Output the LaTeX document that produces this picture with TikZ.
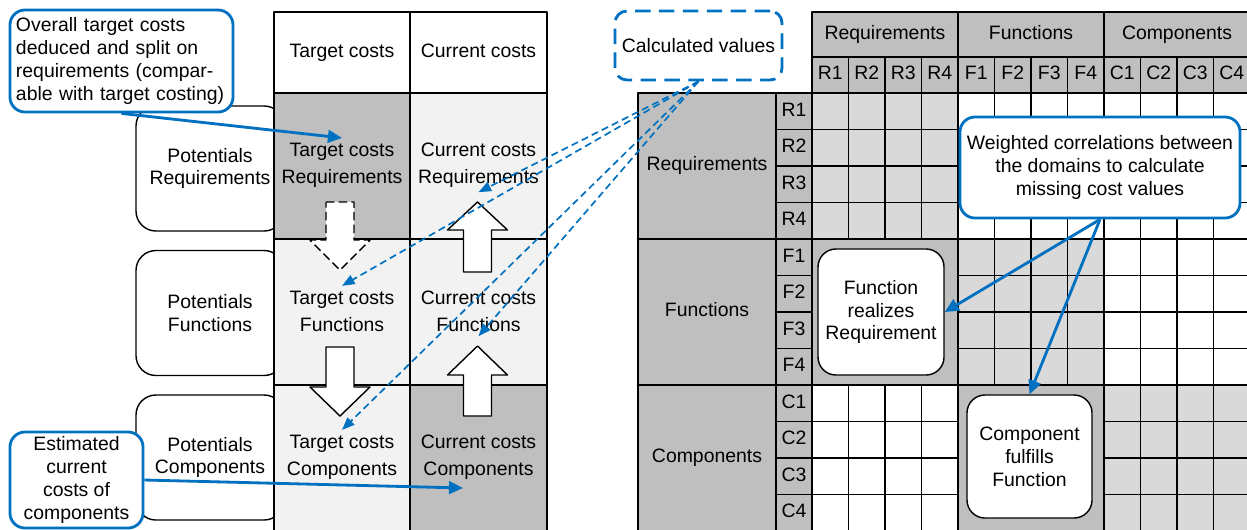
\documentclass[tikz,border=0pt]{standalone}
\usepackage{fontspec}
\setmainfont{Liberation Sans}
\usetikzlibrary{arrows.meta}
\definecolor{calloutblue}{RGB}{0,112,192}
\definecolor{darkcell}{RGB}{191,191,191}
\definecolor{midcell}{RGB}{217,217,217}
\definecolor{lightcell}{RGB}{242,242,242}
\tikzset{
  cell/.style={draw,line width=1.2pt},
  headtext/.style={text height=10pt,text depth=3pt},
  celltext/.style={align=center,font=\fontsize{13.8}{19.1}\selectfont},
  callout/.style={draw=calloutblue,line width=2pt,rounded corners=0.375cm,fill=white,align=center},
  potbox/.style={draw,line width=1pt,rounded corners=0.5cm,fill=white,minimum width=3.7cm,minimum height=3.125cm,align=center},
  notebox/.style={draw,line width=1pt,rounded corners=0.45cm,fill=white,align=center},
  bluearrow/.style={draw=calloutblue,line width=2pt,-{Triangle[length=10pt,width=9pt]}},
  calcarrow/.style={draw=calloutblue,line width=1.2pt,dash pattern=on 5pt off 3pt,-{Triangle[length=9pt,width=7pt]}},
  blockarrow/.style={draw,fill=white,line width=1pt},
  dashblock/.style={dash pattern=on 6pt off 3pt}
}
\begin{document}
\begin{tikzpicture}[x=0.025cm,y=-0.025cm,line join=round,font=\fontsize{13.8}{16.3}\selectfont]
  \def\w{36.5} % cell size (px)
  \useasboundingbox (0,0) rectangle (1247,529);
  % potentials behind the cost table
  \foreach \d [count=\i from 0] in {Requirements,Functions,Components}
    \node[potbox] (pot\i) at (210,168.5+\i*144.5) {Potentials\\\d};
  % cost table
  \node[cell,headtext,fill=white,minimum width=3.4cm,minimum height=2.025cm] (tch) at (342,52.5) {Target costs};
  \node[cell,headtext,fill=white,minimum width=3.425cm,minimum height=2.025cm] (cch) at (478.5,52.5) {Current costs};
  \foreach \d/\fa/\fb [count=\i from 0] in {Requirements/darkcell/lightcell,Functions/lightcell/lightcell,Components/lightcell/darkcell} {
    \draw[cell,fill=\fa] (274,93+\i*146) rectangle ++(136,146);
    \draw[cell,fill=\fb] (410,93+\i*146) rectangle ++(137,146);
    \node[celltext] (tc\i) at (342,165+\i*146) {Target costs\\\d};
    \node[celltext] (cc\i) at (478.5,165+\i*146) {Current costs\\\d};
  }
  % block arrows
  \foreach \s/\xa/\ya/\yb/\yt in {dashblock/340/202/240/270,solid/340/347/387/416,solid/477.5/416/375/346,solid/477.5/272/230/202}
    \draw[blockarrow,\s] (\xa-14,\ya) -- (\xa+14,\ya) -- (\xa+14,\yb) -- (\xa+30,\yb) -- (\xa,\yt) -- (\xa-30,\yb) -- (\xa-14,\yb) -- cycle;
  % matrix headers
  \foreach \d [count=\i from 0] in {Requirements,Functions,Components} {
    \node[cell,headtext,fill=darkcell,minimum width=3.65cm,minimum height=1.125cm] (dh\i) at (885+\i*146,34.5) {\d};
    \node[cell,headtext,fill=darkcell,minimum width=3.45cm,minimum height=3.65cm] (dl\i) at (707,166+\i*146) {\d};
  }
  \foreach \l [count=\i from 0] in {R1,R2,R3,R4,F1,F2,F3,F4,C1,C2,C3,C4} {
    \node[cell,headtext,fill=darkcell,minimum width=0.9125cm,minimum height=0.9cm] (col\l) at (830.25+\i*\w,75) {\l};
    \node[cell,headtext,fill=darkcell,minimum width=0.9cm,minimum height=0.9125cm] (row\l) at (794,111.25+\i*\w) {\l};
  }
  % matrix cells
  \foreach \bi/\bj/\col in {0/0/midcell,1/1/midcell,2/2/midcell,0/1/white,0/2/white,1/2/white,2/0/white}
    \foreach \k in {0,...,3}
      \foreach \m in {0,...,3}
        \draw[cell,fill=\col] (812+\bj*146+\m*\w,93+\bi*146+\k*\w) rectangle ++(\w,\w);
  \draw[cell,fill=darkcell] (812,239) rectangle ++(146,146);
  \draw[cell,fill=darkcell] (958,385) rectangle ++(146,146);
  \node[notebox,minimum width=3.15cm,minimum height=3.15cm] (fr) at (881,312) {Function\\realizes\\Requirement};
  \node[notebox,minimum width=3.125cm,minimum height=3.075cm] (cf) at (1029.5,456.5) {Component\\fulfills\\Function};
  % callouts
  \node[callout,align=left,text width=5.275cm,inner xsep=0.15cm,minimum height=2.55cm] (overall) at (121.5,61)
    {Overall target costs\\deduced and split on\\requirements (compar-\\able with target costing)};
  \node[callout,minimum width=3.325cm,minimum height=2.4cm,inner sep=2pt] (est) at (76.5,480) {Estimated\\current\\costs of\\components};
  \node[callout,dash pattern=on 11pt off 6pt,rounded corners=0.3cm,minimum width=4.175cm,minimum height=1.725cm] (calc) at (698.5,45.5) {Calculated values};
  \node[callout,minimum width=7cm,minimum height=2.525cm] (wc) at (1100,167.5) {Weighted correlations between\\the domains to calculate\\missing cost values};
  \coordinate (ccpt) at (463,488);
  \draw[bluearrow] (overall.south) -- (tc0.north);
  \draw[bluearrow] (est.east) -- (ccpt);
  \draw[bluearrow] (wc.south) -- (fr.east);
  \draw[bluearrow] (wc.south) -- (cf.north);
  \foreach \n in {cc0.south,tc1.north,cc1.south,tc2.north}
    \draw[calcarrow] (calc.south) -- (\n);
\end{tikzpicture}
\end{document}
